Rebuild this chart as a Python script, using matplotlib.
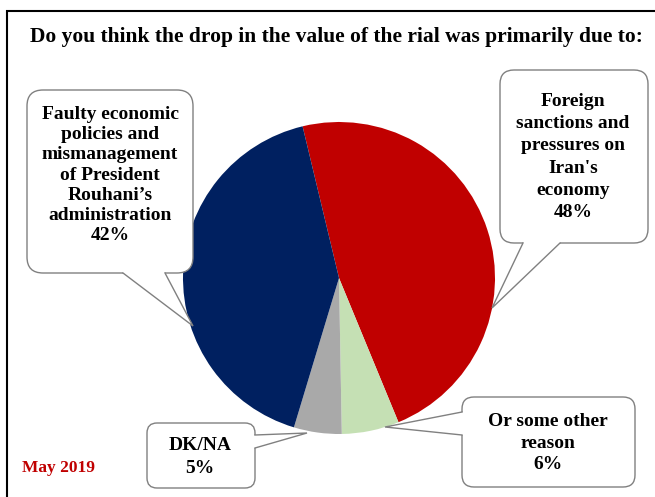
import matplotlib
matplotlib.use("Agg")
import matplotlib.pyplot as plt
from matplotlib.patches import FancyBboxPatch, Polygon, Rectangle

W, H = 655, 497

# data (clockwise from top)
categories = [
    "Foreign\nsanctions and\npressures on\nIran's\neconomy",
    "Or some other\nreason",
    "DK/NA",
    "Faulty economic\npolicies and\nmismanagement\nof President\nRouhani\u2019s\nadministration",
]
values = [48, 6, 5, 42]
colors = ["#C00000", "#C5E0B4", "#A9A9A9", "#002060"]

TITLE = "Do you think the drop in the value of the rial was primarily due to:"
DATE = "May 2019"

plt.rcParams["font.family"] = ["Liberation Serif", "DejaVu Serif"]

fig = plt.figure(figsize=(W / 100, H / 100), dpi=100)
ax = fig.add_axes([0, 0, 1, 1])


def Y(y):
    return H - y


ax.pie(values, colors=colors, startangle=103.5, counterclock=False,
       center=(339, Y(278)), radius=156,
       wedgeprops=dict(linewidth=0))
ax.set_xlim(0, W)
ax.set_ylim(0, H)
ax.set_aspect("equal")
ax.axis("off")

# outer frame
ax.add_patch(Rectangle((7, Y(600)), 700, 589, fill=False, edgecolor="black",
                       linewidth=1.5, zorder=1))

ax.text(336, Y(37), TITLE, ha="center", va="center", fontsize=15.5,
        fontweight="bold")
ax.text(22, Y(468), DATE, ha="left", va="center", fontsize=12.5,
        fontweight="bold", color="#C00000")

EDGE = "#808080"


def callout(x0, y0, x1, y1, base, tip, r, text, tx, ty, ls):
    box = FancyBboxPatch((x0 + r, Y(y1) + r), (x1 - x0) - 2 * r,
                         (y1 - y0) - 2 * r,
                         boxstyle=f"round,pad={r}", facecolor="white",
                         edgecolor=EDGE, linewidth=1.0, zorder=3)
    ax.add_patch(box)
    (bx1, by1), (bx2, by2) = base
    tx_, ty_ = tip
    # inset the base a little to hide the box edge
    cx, cy = (x0 + x1) / 2, (y0 + y1) / 2
    def inset(px, py):
        return px + (cx - px) * 0.03, py + (cy - py) * 0.03
    i1 = inset(bx1, by1)
    i2 = inset(bx2, by2)
    poly = Polygon([(i1[0], Y(i1[1])), (bx1, Y(by1)), (tx_, Y(ty_)),
                    (bx2, Y(by2)), (i2[0], Y(i2[1]))],
                   closed=True, facecolor="white", edgecolor="none", zorder=4)
    ax.add_patch(poly)
    ax.plot([bx1, tx_, bx2], [Y(by1), Y(ty_), Y(by2)], color=EDGE,
            linewidth=1.0, zorder=5, solid_joinstyle="miter")
    ax.text(tx, Y(ty), text, ha="center", va="center", fontsize=14,
            fontweight="bold", linespacing=ls, zorder=6)


labels = [f"{c}\n{v}%" for c, v in zip(categories, values)]

callout(500, 70, 648, 243, [(523, 243), (560, 243)], (492, 308), 14,
        labels[0], 573, 157, 1.41)
callout(462, 397, 635, 487, [(462, 412), (462, 435)], (385, 427), 12,
        labels[1], 548, 443, 1.37)
callout(147, 423, 255, 488, [(255, 435), (255, 448)], (307, 433), 10,
        labels[2], 200, 457, 1.45)
callout(27, 90, 193, 273, [(123, 273), (165, 273)], (193, 326), 16,
        labels[3], 110, 175, 1.25)

fig.savefig("out.png", dpi=100)
